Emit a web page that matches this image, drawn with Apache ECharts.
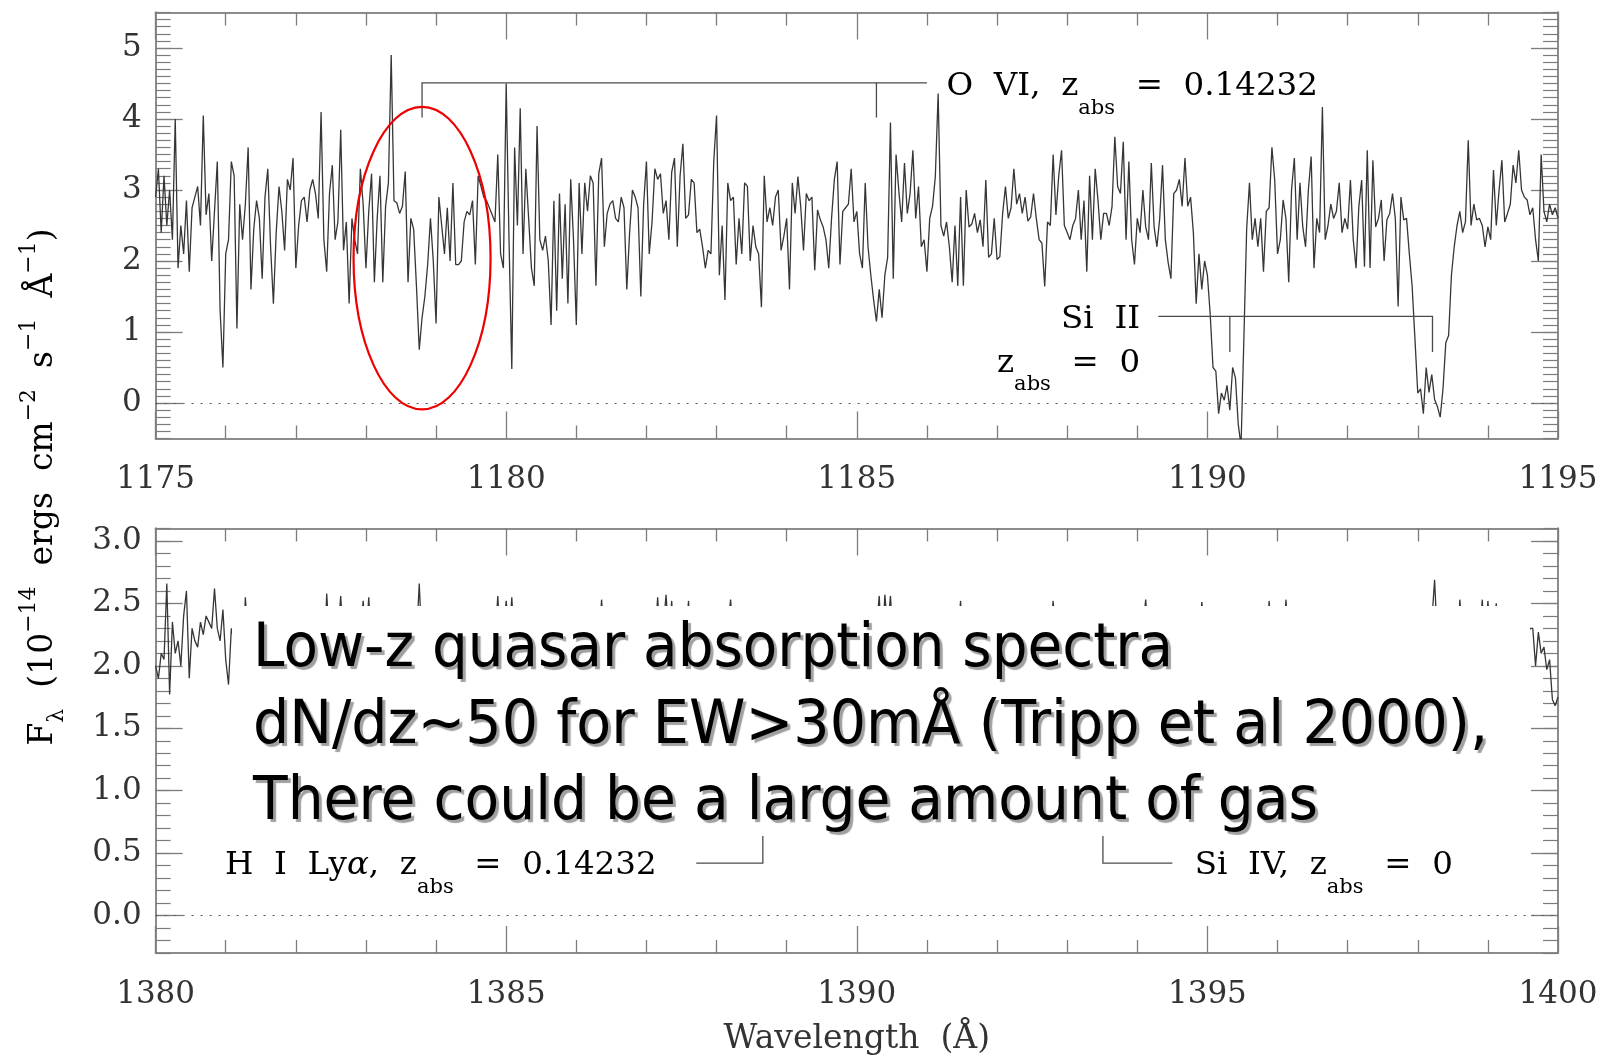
<!DOCTYPE html>
<html><head><meta charset="utf-8">
<script src="https://cdn.jsdelivr.net/npm/echarts@6/dist/echarts.min.js"></script>
<style>html,body{margin:0;padding:0;background:#fff}#c{width:1605px;height:1057px}</style>
</head><body><div id="c"></div>
<script>
// ---------- data ----------
const TOP_START = 1175, TOP_STEP = 0.04;     // wavelength grid, top panel (Angstrom)
const topFlux = [
2.9,3.3,2.4,3.2,2.5,3.0,2.3,4.0,1.9,2.5,2.1,2.85,1.85,2.75,2.9,3.05,2.5,4.05,2.65,2.95,2.0,2.7,3.4,1.3,0.5,
2.1,2.3,3.4,3.2,1.05,2.8,2.3,2.8,3.6,1.6,2.45,2.85,2.6,1.75,2.9,3.3,2.2,1.4,2.4,3.05,2.7,2.15,3.15,3.0,3.45,
1.9,2.5,2.85,2.9,2.55,3.0,3.15,2.95,2.6,4.1,2.3,1.85,2.95,3.35,2.3,2.55,3.85,2.15,2.55,1.4,2.6,2.3,2.1,3.3,2.8,
1.9,2.7,3.23,1.7,2.6,3.2,1.7,2.77,3.1,4.9,2.85,2.82,2.67,2.77,3.26,1.7,2.6,2.45,1.65,0.75,1.2,1.5,1.95,2.6,2.0,
1.12,2.9,2.5,2.1,2.75,2.0,3.1,1.95,1.95,2.0,2.55,2.7,2.65,2.85,1.95,3.2,3.05,2.9,2.85,2.75,2.65,2.55,3.5,2.1,1.9,
4.5,2.3,0.48,3.6,2.5,4.15,2.1,3.3,2.6,1.9,1.65,3.9,2.3,2.15,2.35,2.0,1.1,2.85,1.3,2.95,1.75,2.8,1.4,3.15,2.3,
1.1,3.1,2.1,3.1,2.7,3.2,3.1,1.65,3.23,3.45,2.2,2.67,2.8,2.85,2.6,2.55,2.9,2.75,1.6,2.4,3.0,2.9,2.75,1.5,2.8,
3.4,2.1,2.55,3.3,3.15,3.23,2.67,2.85,2.3,3.25,3.45,2.2,3.2,3.65,2.6,2.65,3.15,3.1,2.4,2.45,2.2,1.9,2.15,2.1,3.4,
4.05,1.8,2.5,1.45,3.1,2.85,2.9,1.95,2.6,2.1,3.1,3.05,2.0,2.5,2.2,2.1,1.35,3.2,2.55,2.75,2.5,2.9,3.0,2.15,2.35,
2.6,1.6,3.1,2.67,3.19,2.77,2.15,2.95,2.85,2.9,1.87,2.72,2.58,2.48,2.3,1.9,2.6,3.15,3.4,1.95,2.7,2.75,2.8,3.3,2.55,
2.7,2.1,1.9,3.1,2.2,1.8,1.45,1.15,1.6,1.2,1.8,2.05,3.95,1.75,3.5,2.98,2.55,3.38,2.67,2.95,3.56,2.6,3.05,2.2,2.3,
1.85,2.6,2.77,3.19,4.36,2.5,2.35,2.55,2.2,1.7,2.5,1.65,2.9,1.65,3.0,2.48,2.52,2.67,2.4,2.58,2.2,3.14,2.05,2.1,2.6,
2.02,2.06,2.67,3.05,2.6,2.75,3.3,2.8,2.95,2.67,2.9,2.56,2.62,2.95,2.6,2.3,2.25,1.64,2.55,2.5,3.5,2.65,3.2,3.56,2.5,
2.4,2.3,2.5,2.6,3.0,2.3,2.85,1.85,3.2,2.3,3.3,2.85,2.3,2.67,2.67,2.5,2.77,3.75,3.05,2.95,3.68,2.3,3.4,2.3,1.95,
2.6,2.4,3.0,2.48,2.3,3.38,2.48,2.2,2.6,3.35,2.3,1.98,1.75,2.95,3.0,3.15,2.77,3.45,2.77,2.9,2.4,1.4,2.1,1.6,2.0,
1.8,1.25,0.5,0.45,-0.15,0.14,0.04,0.25,-0.1,0.5,0.35,-0.3,-0.6,0.9,2.45,3.1,2.3,2.6,2.2,2.6,1.85,2.7,2.75,3.6,3.14,
2.1,2.3,2.86,2.6,1.7,3.0,3.45,2.3,3.1,2.48,2.2,3.0,3.47,1.9,2.6,2.4,4.17,2.3,2.5,2.8,2.6,2.7,3.1,2.4,2.6,
2.45,3.14,2.3,1.9,2.77,3.14,1.92,3.56,1.9,3.42,2.48,2.6,2.86,2.0,2.58,2.67,2.95,2.6,1.36,2.9,2.58,2.6,2.1,1.64,0.9,
0.14,0.2,-0.15,0.5,0.15,0.4,0.05,-0.05,-0.2,0.2,0.85,0.95,1.8,2.2,2.5,2.7,2.4,2.55,3.7,2.5,2.8,2.58,2.6,2.5,2.2,
2.48,2.3,3.28,2.5,3.0,3.42,2.55,2.67,2.8,3.35,3.1,3.56,3.0,2.9,2.86,2.65,2.75,2.3,2.0,3.5,2.7,2.55,2.8,2.65,2.75,
2.6];

const BOT_START = 1380, BOT_STEP = 0.04;     // wavelength grid, bottom panel (Angstrom)
const botFlux = [
2.0,1.9,2.1,2.05,2.66,1.77,2.35,2.1,2.2,2.0,2.4,2.6,1.9,2.3,2.2,2.15,2.35,2.25,2.4,2.35,2.3,2.62,2.3,2.2,2.45,
2.05,1.85,2.3,2.2,2.1,2.3,2.0,2.55,2.2,2.1,2.35,1.95,2.25,2.4,2.1,2.2,2.3,2.0,2.15,2.35,2.25,1.9,2.2,2.3,2.1,
2.25,2.35,2.0,2.2,2.4,2.15,2.05,2.3,2.2,2.35,1.95,2.58,2.2,2.3,2.1,2.25,2.56,2.15,2.0,2.3,2.2,2.35,2.1,2.25,2.52,
2.2,2.55,2.1,2.3,2.0,2.25,2.35,2.15,2.2,1.95,2.3,2.4,2.1,2.25,2.2,2.35,2.05,2.3,2.2,2.66,2.15,2.0,2.3,2.25,2.4,
2.1,2.2,2.35,1.9,2.25,2.3,2.15,2.0,2.3,2.4,2.2,2.1,2.35,2.25,1.95,2.2,2.3,2.1,2.25,2.35,2.0,2.2,2.56,2.15,2.3,
2.52,2.2,2.55,2.1,2.3,2.25,2.0,2.35,2.2,2.1,2.3,2.4,2.15,1.95,2.25,2.3,2.2,2.35,2.05,2.2,2.3,2.1,2.25,2.4,2.15,
2.2,2.3,2.0,2.25,2.35,2.1,2.2,2.3,2.15,2.53,2.2,2.05,2.3,2.25,2.4,2.1,2.2,2.35,2.0,2.25,2.3,2.15,2.2,2.35,2.1,
2.25,2.3,2.0,2.2,2.55,2.15,2.3,2.57,2.2,2.52,2.1,2.25,2.35,2.0,2.2,2.52,2.15,2.3,2.25,2.1,2.35,2.2,2.0,2.3,2.25,
2.15,2.35,2.2,2.1,2.3,2.53,2.2,2.0,2.25,2.3,2.1,2.15,2.2,1.95,1.6,1.3,1.15,1.5,1.9,2.3,2.2,2.35,2.05,2.25,2.3,
2.1,2.2,2.35,2.0,2.25,2.3,2.15,2.2,2.4,2.1,2.25,2.3,2.0,2.2,2.35,2.15,2.3,2.25,2.1,2.2,2.35,2.0,2.25,2.3,2.15,
2.2,2.3,2.1,2.35,2.25,2.0,2.2,2.3,2.56,2.1,2.57,2.3,2.56,2.2,2.15,2.3,2.25,2.05,2.2,2.35,2.1,2.25,2.3,2.0,2.2,
2.35,2.15,2.25,2.3,2.1,2.2,2.35,2.0,2.25,2.3,2.15,2.2,2.52,2.1,2.25,2.35,2.0,2.2,2.3,2.15,2.25,2.4,2.1,2.2,2.3,
2.05,2.25,2.35,2.15,2.2,2.3,2.0,2.25,2.35,2.1,2.2,2.3,2.15,2.25,2.0,2.35,2.2,2.1,2.3,2.25,2.52,2.15,2.2,2.35,2.05,
2.2,2.3,2.15,2.25,2.35,2.0,2.2,2.3,2.1,2.25,2.35,2.15,2.0,1.6,1.1,0.8,0.9,1.3,1.8,2.1,2.25,2.3,2.15,2.2,2.35,
2.1,2.25,2.3,2.53,2.2,2.15,2.35,2.0,2.25,2.3,2.1,2.2,2.35,2.15,2.25,2.0,2.3,2.2,2.1,2.35,2.25,2.2,2.15,2.51,2.3,
2.2,2.05,2.25,2.35,2.1,2.2,2.3,2.15,2.25,2.0,2.35,2.2,2.1,2.3,2.25,2.15,2.2,2.35,2.05,2.25,2.3,2.1,2.52,2.2,2.15,
2.3,2.25,2.1,2.53,2.2,2.35,2.0,2.25,2.3,2.15,2.2,2.35,2.1,2.25,2.3,2.0,2.2,2.35,2.15,2.25,2.3,2.1,2.2,2.35,2.05,
2.25,2.3,2.15,2.2,2.35,2.0,2.25,2.3,2.1,2.2,2.35,2.15,2.25,2.3,2.05,2.2,2.35,2.1,2.25,2.3,2.15,2.2,2.0,2.35,2.25,
2.1,2.2,2.3,2.15,2.25,2.35,2.69,2.2,2.1,2.3,2.25,2.15,2.2,2.35,2.05,2.53,2.2,2.3,2.1,2.25,2.35,2.15,2.2,2.53,2.1,
2.52,2.2,2.3,2.5,2.15,2.25,2.35,2.1,2.2,2.3,2.05,2.25,2.35,2.15,2.2,2.3,2.3,2.0,2.27,2.1,2.15,1.97,2.05,1.73,1.68,
1.75];

// axis ranges and tick labels
const topXRange = [1175, 1195];
const botXRange = [1380, 1400];
const topYRange = [-0.5, 5.5];
const botYRange = [-0.3, 3.1];
const topYTicks = [0, 1, 2, 3, 4, 5];
const botYTicks = [0, 0.5, 1.0, 1.5, 2.0, 2.5, 3.0];

// line identification brackets (wavelength, flux)
const oviBracket  = [[1178.80, 4.02], [1178.80, 4.51], [1186.00, 4.51]];
const oviTick     = [[1185.28, 4.51], [1185.28, 4.02]];
const siiBracket  = [[1189.30, 1.22], [1193.21, 1.22], [1193.21, 0.72]];
const siiTick     = [[1190.32, 1.22], [1190.32, 0.72]];
const hiBracket   = [[1387.71, 0.42], [1388.66, 0.42], [1388.66, 0.95]];
const siivBracket = [[1393.51, 0.95], [1393.51, 0.42], [1394.50, 0.42]];

// annotation anchors (wavelength, flux)
const oviLabelAt  = [1186.28, 4.45];
const siiLabelAt  = [1189.04, 1.17];
const siiZLabelAt = [1189.04, 0.56];
const hiLabelAt   = [1380.99, 0.40];
const siivLabelAt = [1394.82, 0.40];
const ellipseCenter = [1178.80, 2.04];
const ellipseRadii  = [0.977, 2.13];

const noteLines = [
  'Low-z quasar absorption spectra',
  'dN/dz~50 for EW>30mÅ (Tripp et al 2000),',
  'There could be a large amount of gas'
];

// ---------- chart ----------
const FRAME = '#8c8c8c', TICK = '#7c7c7c', INK = '#333333', LINE = '#363636';
const SERIF = '"DejaVu Serif", "Liberation Serif", serif';

function xAx(grid, pos, range, labels, extra) {
  return Object.assign({
    type: 'value', gridIndex: grid, position: pos, min: range[0], max: range[1], interval: 5,
    axisLine: { show: true, onZero: false, lineStyle: { color: FRAME, width: 2 } },
    axisTick: { show: true, inside: true, length: 27, lineStyle: { color: TICK, width: 1.3 } },
    minorTick: { show: true, splitNumber: 5, length: 13, lineStyle: { color: TICK, width: 1.3 } },
    splitLine: { show: false }, minorSplitLine: { show: false },
    axisLabel: { show: labels, margin: 26, fontFamily: SERIF, fontSize: 31, color: INK, formatter: v => String(v) }
  }, extra || {});
}
function yMajor(grid, pos, range, vals, fmt, labels) {
  return {
    type: 'value', gridIndex: grid, position: pos, min: range[0], max: range[1],
    axisLine: { show: true, onZero: false, lineStyle: { color: FRAME, width: 2 } },
    axisTick: { show: true, inside: true, length: 27, customValues: vals, lineStyle: { color: TICK, width: 1.3 } },
    axisLabel: { show: labels, customValues: vals, formatter: fmt, margin: 14, fontFamily: SERIF, fontSize: 31, color: INK },
    splitLine: { show: false }
  };
}
function yMinor(grid, pos, range) {
  return {
    type: 'value', gridIndex: grid, position: pos, min: range[0], max: range[1], interval: 0.1,
    axisLine: { show: true, onZero: false, lineStyle: { color: FRAME, width: 2 } },
    axisTick: { show: true, inside: true, length: 15, lineStyle: { color: TICK, width: 1.2 } },
    axisLabel: { show: false }, splitLine: { show: false }
  };
}
const zeroLine = {
  silent: true, symbol: ['none', 'none'], label: { show: false }, animation: false,
  lineStyle: { color: '#555', type: [2, 7], width: 1.2 }, data: [{ yAxis: 0 }]
};
const topData = topFlux.map((v, i) => [+(TOP_START + i * TOP_STEP).toFixed(2), v]);
const botData = botFlux.map((v, i) => [+(BOT_START + i * BOT_STEP).toFixed(2), v]);

const chart = echarts.init(document.getElementById('c'), null, { renderer: 'canvas' });
const option = {
  animation: false,
  backgroundColor: '#ffffff',
  grid: [
    { left: 155.6, right: 47, top: 12.5, height: 426 },
    { left: 155.6, right: 47, top: 528.5, height: 426 }
  ],
  xAxis: [
    xAx(0, 'bottom', topXRange, true),
    xAx(0, 'top', topXRange, false),
    xAx(1, 'bottom', botXRange, true, {
      name: 'Wavelength  (Å)', nameLocation: 'middle', nameGap: 70,
      nameTextStyle: { fontFamily: SERIF, fontSize: 33, color: INK }
    }),
    xAx(1, 'top', botXRange, false)
  ],
  yAxis: [
    yMajor(0, 'left', topYRange, topYTicks, v => String(v), true),
    yMinor(0, 'left', topYRange),
    yMajor(0, 'right', topYRange, topYTicks, v => String(v), false),
    yMinor(0, 'right', topYRange),
    yMajor(1, 'left', botYRange, botYTicks, v => Number(v).toFixed(1), true),
    yMinor(1, 'left', botYRange),
    yMajor(1, 'right', botYRange, botYTicks, v => Number(v).toFixed(1), false),
    yMinor(1, 'right', botYRange)
  ],
  series: [
    { type: 'line', xAxisIndex: 0, yAxisIndex: 0, data: topData, showSymbol: false, symbol: 'none',
      lineStyle: { color: LINE, width: 1.3 }, clip: true, z: 3, markLine: zeroLine },
    { type: 'line', xAxisIndex: 2, yAxisIndex: 4, data: botData, showSymbol: false, symbol: 'none',
      lineStyle: { color: LINE, width: 1.3 }, clip: true, z: 3, markLine: zeroLine },
    { type: 'lines', coordinateSystem: 'cartesian2d', xAxisIndex: 0, yAxisIndex: 0, polyline: true, silent: true,
      lineStyle: { color: '#4a4a4a', width: 1.3, opacity: 1, curveness: 0 }, z: 4,
      data: [{ coords: oviBracket }, { coords: oviTick }, { coords: siiBracket }, { coords: siiTick }] },
    { type: 'lines', coordinateSystem: 'cartesian2d', xAxisIndex: 2, yAxisIndex: 4, polyline: true, silent: true,
      lineStyle: { color: '#4a4a4a', width: 1.3, opacity: 1, curveness: 0 }, z: 4,
      data: [{ coords: hiBracket }, { coords: siivBracket }] }
  ]
};
chart.setOption(option);

// ---------- annotations ----------
const TOPC = { xAxisIndex: 0, yAxisIndex: 0 };
const BOTC = { xAxisIndex: 2, yAxisIndex: 4 };
const px = (c, p) => chart.convertToPixel(c, p);
const annRich = {
  m: { fontFamily: SERIF, fontSize: 32.5, color: INK, lineHeight: 64 },
  s: { fontFamily: SERIF, fontSize: 21, color: INK, lineHeight: 24, verticalAlign: 'bottom' },
  g: { fontFamily: SERIF, fontSize: 32.5, fontStyle: 'italic', color: INK, lineHeight: 64 }
};
function ann(c, at, text, align) {
  const p = px(c, at);
  return { type: 'text', x: p[0], y: p[1], z: 20, silent: true,
    style: { text: text, rich: annRich, align: align, verticalAlign: 'middle' } };
}
const ec = px(TOPC, ellipseCenter);
const ee = px(TOPC, [ellipseCenter[0] + ellipseRadii[0], ellipseCenter[1] + ellipseRadii[1]]);

const graphics = [
  ann(TOPC, oviLabelAt, '{m|O  VI,  z}{s|abs}{m|  =  0.14232}', 'left'),
  ann(TOPC, siiLabelAt, '{m|Si  II}', 'right'),
  ann(TOPC, siiZLabelAt, '{m|z}{s|abs}{m|  =  0}', 'right'),
  ann(BOTC, hiLabelAt, '{m|H  I  Ly}{g|α}{m|,  z}{s|abs}{m|  =  0.14232}', 'left'),
  ann(BOTC, siivLabelAt, '{m|Si  IV,  z}{s|abs}{m|  =  0}', 'left'),
  { type: 'ellipse', z: 30, silent: true,
    shape: { cx: ec[0], cy: ec[1], rx: Math.abs(ee[0] - ec[0]), ry: Math.abs(ee[1] - ec[1]) },
    style: { fill: 'none', stroke: '#ee0000', lineWidth: 2.2 } },
  // y-axis title
  { type: 'text', x: 43, y: 487, rotation: Math.PI / 2, z: 20, silent: true,
    style: {
      text: '{m|F}{b|λ}{m|  (10}{t|−14}{m|  ergs  cm}{t|−2}{m|  s}{t|−1}{m|  Å}{t|−1}{m|)}',
      align: 'center', verticalAlign: 'middle',
      rich: {
        m: { fontFamily: SERIF, fontSize: 33, color: INK, lineHeight: 50 },
        t: { fontFamily: SERIF, fontSize: 22, color: INK, lineHeight: 22, verticalAlign: 'top' },
        b: { fontFamily: SERIF, fontSize: 22, color: INK, lineHeight: 22, verticalAlign: 'bottom' }
      }
    } },
  // white slide-text panel
  { type: 'rect', z: 100, silent: true, shape: { x: 232, y: 606, width: 1298, height: 230 },
    style: { fill: '#ffffff' } }
];
const noteY = [650, 727, 803];
const noteScale = [0.94, 0.952, 0.945];
noteLines.forEach((t, i) => {
  graphics.push({ type: 'text', x: 253, y: noteY[i], scaleX: noteScale[i], z: 101, silent: true,
    style: { text: t, fontFamily: '"DejaVu Sans", Verdana, sans-serif', fontSize: 60, fill: '#000',
      align: 'left', verticalAlign: 'middle',
      textShadowColor: '#a0a0a0', textShadowOffsetX: 3, textShadowOffsetY: 3, textShadowBlur: 1,
      shadowColor: '#a0a0a0', shadowOffsetX: 3, shadowOffsetY: 3, shadowBlur: 1 } });
});
chart.setOption({ graphic: graphics });
</script>
</body></html>
